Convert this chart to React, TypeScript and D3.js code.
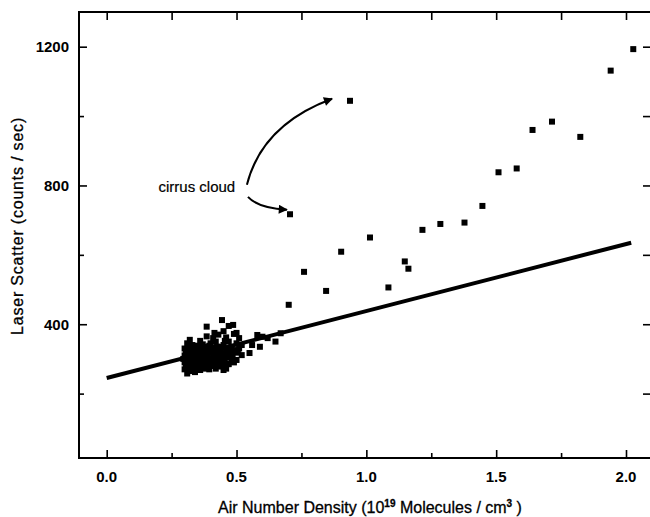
import * as d3 from 'd3';
import { useRef, useEffect } from 'react';

// air number density (10^19 molecules / cm3) and laser scatter (counts / sec)
const densityX: number[] = [
    0.30, 0.30, 0.30, 0.30, 0.31, 0.31, 0.31, 0.31, 0.31, 0.32, 0.32, 0.32, 0.32, 0.32,
    0.33, 0.33, 0.33, 0.33, 0.34, 0.34, 0.34, 0.34, 0.35, 0.35, 0.35, 0.35, 0.36, 0.36,
    0.36, 0.36, 0.36, 0.37, 0.37, 0.37, 0.37, 0.38, 0.38, 0.38, 0.385, 0.39, 0.39, 0.39,
    0.40, 0.40, 0.40, 0.40, 0.41, 0.41, 0.41, 0.41, 0.42, 0.42, 0.42, 0.42, 0.43, 0.43,
    0.43, 0.43, 0.44, 0.44, 0.44, 0.444, 0.45, 0.45, 0.45, 0.45, 0.46, 0.46, 0.46, 0.46,
    0.47, 0.47, 0.47, 0.47, 0.48, 0.48, 0.487, 0.49, 0.49, 0.49, 0.50, 0.50, 0.50, 0.51,
    0.51, 0.52, 0.52,
    0.295, 0.305, 0.305, 0.315, 0.315, 0.325, 0.325, 0.335, 0.335, 0.345, 0.345, 0.355,
    0.355, 0.365, 0.365, 0.375, 0.375, 0.385, 0.395, 0.395, 0.405, 0.405, 0.415, 0.415,
    0.425, 0.425, 0.435, 0.435, 0.445, 0.455, 0.455, 0.465, 0.465, 0.475, 0.485, 0.495,
    0.505, 0.455, 0.385, 0.415,
    0.55, 0.56, 0.58, 0.59, 0.60, 0.62, 0.65, 0.67, 0.701,
    0.706, 0.76, 0.845, 0.903, 0.937, 1.014, 1.085, 1.148, 1.162, 1.216, 1.285, 1.378,
    1.447, 1.509, 1.579, 1.640, 1.715, 1.824, 1.941, 2.028,
];
const scatterY: number[] = [
    270, 290, 310, 330, 258, 280, 300, 320, 345, 265, 285, 305, 325, 355,
    275, 295, 315, 340, 262, 288, 308, 330, 278, 298, 318, 338, 268, 292,
    312, 332, 352, 282, 302, 322, 342, 272, 295, 315, 393, 288, 308, 328,
    280, 300, 320, 345, 292, 312, 332, 360, 272, 302, 322, 350, 285, 310,
    335, 370, 278, 300, 325, 412, 268, 315, 340, 380, 272, 305, 330, 362,
    285, 320, 350, 395, 300, 335, 398, 290, 325, 372, 297, 345, 375, 330,
    360, 311, 340,
    300, 275, 320, 290, 335, 280, 315, 300, 325, 275, 312, 290, 326, 280, 318,
    290, 335, 305, 270, 338, 290, 330, 280, 318, 290, 335, 298, 322, 290, 300,
    352, 285, 318, 305, 312, 325, 318, 280, 365, 375,
    317, 340, 369, 335, 364, 360, 350, 374, 456,
    717, 551, 496, 609, 1044, 650, 506, 581, 560, 672, 689, 693,
    741, 838, 849, 960, 984, 940, 1131, 1193,
];

// fitted line end points
const fitX: number[] = [0, 2.02];
const fitY: number[] = [245, 635];

const xMajorTicks: number[] = [0, 0.5, 1.0, 1.5, 2.0];
const xMinorTicks: number[] = [0.25, 0.75, 1.25, 1.75];
const yMajorTicks: number[] = [400, 800, 1200];
const yMinorTicks: number[] = [200, 600, 1000];

const annotationText = 'cirrus cloud';

export default function App() {
    const svgRef = useRef<SVGSVGElement>(null);

    useEffect(() => {
        if (!svgRef.current) return;
        const svg = d3.select(svgRef.current);
        svg.selectAll('*').remove();

        const left = 79, right = 651, top = 12, bottom = 458;
        const x = d3.scaleLinear().domain([-0.1067, 2.0963]).range([left, right]);
        const y = d3.scaleLinear().domain([14.4, 1300]).range([bottom, top]);
        const font = 'Liberation Sans, Arial, Helvetica, sans-serif';

        // frame
        svg.append('rect')
            .attr('x', left).attr('y', top)
            .attr('width', right - left).attr('height', bottom - top)
            .attr('fill', 'none').attr('stroke', '#000').attr('stroke-width', 2);

        const tick = (g: any) => {
            g.select('.domain').remove();
            g.selectAll('line').attr('stroke', '#000').attr('stroke-width', 1.6);
            g.selectAll('text').remove();
            return g;
        };

        // inward ticks on all four sides
        svg.append('g').attr('transform', `translate(0,${bottom})`)
            .call(d3.axisBottom(x).tickValues(xMajorTicks).tickSize(-8)).call(tick);
        svg.append('g').attr('transform', `translate(0,${bottom})`)
            .call(d3.axisBottom(x).tickValues(xMinorTicks).tickSize(-5)).call(tick);
        svg.append('g').attr('transform', `translate(0,${top})`)
            .call(d3.axisTop(x).tickValues(xMajorTicks.concat(xMinorTicks)).tickSize(-8)).call(tick);
        svg.append('g').attr('transform', `translate(${left},0)`)
            .call(d3.axisLeft(y).tickValues(yMajorTicks).tickSize(-8)).call(tick);
        svg.append('g').attr('transform', `translate(${left},0)`)
            .call(d3.axisLeft(y).tickValues(yMinorTicks).tickSize(-5)).call(tick);
        svg.append('g').attr('transform', `translate(${right},0)`)
            .call(d3.axisRight(y).tickValues(yMajorTicks.concat(yMinorTicks)).tickSize(-8)).call(tick);

        // tick labels
        svg.append('g').selectAll('text').data(xMajorTicks).enter().append('text')
            .attr('x', d => x(d)).attr('y', bottom + 24)
            .attr('text-anchor', 'middle')
            .attr('font-family', font).attr('font-size', 15).attr('font-weight', 'bold')
            .text(d => d3.format('.1f')(d));
        svg.append('g').selectAll('text').data(yMajorTicks).enter().append('text')
            .attr('x', left - 10).attr('y', d => y(d)).attr('dy', '0.36em')
            .attr('text-anchor', 'end')
            .attr('font-family', font).attr('font-size', 15).attr('font-weight', 'bold')
            .text(d => String(d));

        // axis titles
        const xt = svg.append('text')
            .attr('x', 370).attr('y', 513)
            .attr('text-anchor', 'middle')
            .attr('font-family', font).attr('font-size', 16)
            .attr('stroke', '#000').attr('stroke-width', 0.3);
        xt.append('tspan').text('Air Number Density (10');
        xt.append('tspan').attr('dy', -6).attr('font-size', 10).attr('font-weight', 'bold').text('19');
        xt.append('tspan').attr('dy', 6).text(' Molecules / cm');
        xt.append('tspan').attr('dy', -6).attr('font-size', 10).attr('font-weight', 'bold').text('3');
        xt.append('tspan').attr('dy', 6).text(' )');

        svg.append('text')
            .attr('transform', `translate(23,${226}) rotate(-90)`)
            .attr('text-anchor', 'middle')
            .attr('font-family', font).attr('font-size', 16)
            .attr('letter-spacing', 0.8)
            .attr('stroke', '#000').attr('stroke-width', 0.3)
            .text('Laser Scatter (counts / sec)');

        // fitted line
        svg.append('line')
            .attr('x1', x(fitX[0])).attr('y1', y(fitY[0]))
            .attr('x2', x(fitX[1])).attr('y2', y(fitY[1]))
            .attr('stroke', '#000').attr('stroke-width', 4);

        // points
        const pts = densityX.map((d, i) => [d, scatterY[i]]);
        svg.append('g').selectAll('rect').data(pts).enter().append('rect')
            .attr('x', d => x(d[0]) - 3).attr('y', d => y(d[1]) - 3)
            .attr('width', 6).attr('height', 6)
            .attr('fill', '#000');

        // annotation
        svg.append('text')
            .attr('x', x(0.495)).attr('y', y(782))
            .attr('text-anchor', 'end')
            .attr('font-family', font).attr('font-size', 15)
            .attr('stroke', '#000').attr('stroke-width', 0.2)
            .text(annotationText);

        const defs = svg.append('defs');
        defs.append('marker')
            .attr('id', 'head').attr('viewBox', '0 0 10 10')
            .attr('refX', 9).attr('refY', 5)
            .attr('markerWidth', 6).attr('markerHeight', 4.5)
            .attr('orient', 'auto-start-reverse')
            .append('path').attr('d', 'M0,0 L10,5 L0,10 Z').attr('fill', '#000');

        const arrows = [
            [[0.54, 802], [0.598, 975], [0.868, 1050]],
            [[0.544, 767], [0.583, 735], [0.694, 730]],
        ];
        arrows.forEach(a => {
            const p = d3.path();
            p.moveTo(x(a[0][0]), y(a[0][1]));
            p.quadraticCurveTo(x(a[1][0]), y(a[1][1]), x(a[2][0]), y(a[2][1]));
            svg.append('path')
                .attr('d', p.toString())
                .attr('fill', 'none').attr('stroke', '#000').attr('stroke-width', 2)
                .attr('marker-end', 'url(#head)');
        });
    }, []);

    return (
        <svg ref={svgRef} width={650} height={517}
            style={{ position: 'absolute', left: 0, top: 0, background: '#fff' }} />
    );
}
